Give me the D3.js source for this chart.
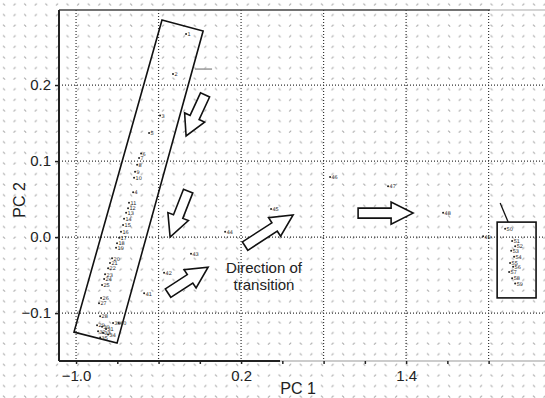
<!DOCTYPE html>
<meta charset="utf-8">
<head>
<script src="https://d3js.org/d3.v7.min.js"></script>
<style>
body { margin: 0; background: #fff; }
text { font-family: "Liberation Sans", Arial, sans-serif; }
</style>
</head>
<body>
<svg id="chart"></svg>
<script>
// sample scores on PC1 / PC2
var sampleId = [1, 2, 3, 5, 6, 7, 8, 9, 10, 4, 11, 12, 13, 14, 15, 16, 17, 18, 19, 20,
  21, 22, 23, 24, 25, 26, 27, 28, 29, 30, 31, 32, 33, 34, 35, 39, 40,
  41, 42, 43, 44, 45, 46, 47, 48, 49, 50,
  51, 52, 53, 54, 55, 56, 57, 58, 59];
var pc1 = [-0.200, -0.295, -0.389, -0.469, -0.527, -0.542, -0.556, -0.571, -0.578, -0.585,
  -0.615, -0.622, -0.636, -0.651, -0.658, -0.673, -0.687, -0.702, -0.709, -0.738,
  -0.753, -0.767, -0.789, -0.796, -0.811, -0.818, -0.833, -0.825, -0.847, -0.811,
  -0.782, -0.840, -0.804, -0.767, -0.825, -0.731, -0.690,
  -0.505, -0.360, -0.164, 0.084, 0.418, 0.847, 1.269, 1.669, 1.960, 2.120,
  2.171, 2.193, 2.164, 2.185, 2.156, 2.178, 2.149, 2.171, 2.193];
var pc2 = [0.267, 0.2145, 0.160, 0.137, 0.110, 0.104, 0.095, 0.086, 0.078, 0.059,
  0.045, 0.038, 0.032, 0.024, 0.016, 0.007, -0.001, -0.008, -0.014, -0.028,
  -0.034, -0.041, -0.049, -0.055, -0.063, -0.080, -0.087, -0.104, -0.116, -0.118,
  -0.121, -0.124, -0.126, -0.128, -0.132, -0.113, -0.113,
  -0.074, -0.047, -0.022, 0.007, 0.037, 0.079, 0.067, 0.032, 0.001, 0.011,
  -0.005, -0.012, -0.018, -0.026, -0.034, -0.039, -0.046, -0.054, -0.061];

// outline of the early-stage group (tilted box) and the late-stage group
var bandBoxX = [-0.375, -0.076, -0.702, -1.015];
var bandBoxY = [0.2855, 0.271, -0.1395, -0.125];
var endBoxX = [2.062, 2.345];
var endBoxY = [0.0197, -0.080];

// direction arrows: tail -> tip
var arrowX0 = [-0.062, -0.185, -0.331, 0.229, 1.051];
var arrowY0 = [0.187, 0.0605, -0.0737, -0.0118, 0.0316];
var arrowX1 = [-0.200, -0.316, -0.040, 0.578, 1.451];
var arrowY1 = [0.133, 0.000, -0.0395, 0.029, 0.0316];

var xTicks = d3.range(-1.0, 2.01, 0.3);
var xLabels = [-1.0, 0.2, 1.4];
var xGrid = [-1.0, -0.4, 0.2, 0.8, 1.4, 2.0];
var yTicks = [0.2, 0.1, 0.0, -0.1];

var W = 545, H = 398;
var svg = d3.select("#chart").attr("width", W).attr("height", H);

var x = d3.scaleLinear().domain([-1.124, 2.41]).range([59, 545]);
var y = d3.scaleLinear().domain([-0.163, 0.2987]).range([361, 10]);

// halftone background of the scan
var defs = svg.append("defs");
var pat = defs.append("pattern").attr("id", "ht")
  .attr("patternUnits", "userSpaceOnUse")
  .attr("width", 21.2).attr("height", 10.6);
pat.append("path").attr("d", "M3,3.5 l2,2").attr("stroke", "#a8a8a8").attr("stroke-width", 1.1);
pat.append("path").attr("d", "M13.6,5.5 l2,-2").attr("stroke", "#a8a8a8").attr("stroke-width", 1.1);
svg.append("rect").attr("width", W).attr("height", H).attr("fill", "url(#ht)");

// grid
svg.append("g").selectAll("line").data(xGrid).join("line")
  .attr("x1", d => x(d)).attr("x2", d => x(d))
  .attr("y1", y.range()[1]).attr("y2", y.range()[0])
  .attr("stroke", "#333").attr("stroke-width", 1.2).attr("stroke-dasharray", "1,2");
svg.append("g").selectAll("line").data(yTicks).join("line")
  .attr("x1", x.range()[0]).attr("x2", x.range()[1])
  .attr("y1", d => y(d)).attr("y2", d => y(d))
  .attr("stroke", "#333").attr("stroke-width", 1.2).attr("stroke-dasharray", "1,2");

// frame
svg.append("line").attr("x1", 59).attr("x2", 490).attr("y1", 10).attr("y2", 10)
  .attr("stroke", "#444").attr("stroke-width", 1.5);
svg.append("line").attr("x1", 490).attr("x2", 545).attr("y1", 10).attr("y2", 10)
  .attr("stroke", "#aaa").attr("stroke-width", 1.2);
svg.append("line").attr("x1", 280).attr("x2", 545).attr("y1", 361).attr("y2", 361)
  .attr("stroke", "#999").attr("stroke-width", 1.2);

// axes
var xAxis = d3.axisBottom(x).tickValues(xTicks).tickSize(3).tickPadding(6)
  .tickFormat(d => xLabels.some(v => Math.abs(v - d) < 1e-6) ? d3.format(".1f")(d) : "");
var gx = svg.append("g").attr("transform", "translate(0,361)").call(xAxis);
gx.select(".domain").attr("d", "M59,0H280").attr("stroke", "#222").attr("stroke-width", 2);
gx.selectAll(".tick line").attr("stroke", "#222").attr("stroke-width", 1.5);
gx.selectAll("text").attr("font-size", 15).attr("fill", "#222")
  .attr("font-family", "Liberation Sans, Arial, sans-serif");

var yAxis = d3.axisLeft(y).tickValues(yTicks).tickSize(4).tickPadding(4)
  .tickFormat(d3.format(".1f"));
var gy = svg.append("g").attr("transform", "translate(59,0)").call(yAxis);
gy.select(".domain").attr("d", "M0,10V361").attr("stroke", "#222").attr("stroke-width", 2);
gy.selectAll(".tick line").attr("stroke", "#222").attr("stroke-width", 1.5);
gy.selectAll("text").attr("font-size", 15).attr("fill", "#222")
  .attr("font-family", "Liberation Sans, Arial, sans-serif");

svg.append("text").attr("x", 298).attr("y", 394).attr("text-anchor", "middle")
  .attr("font-size", 16).attr("fill", "#222").text("PC 1");
svg.append("text").attr("transform", "translate(25,200) rotate(-90)")
  .attr("text-anchor", "middle").attr("font-size", 16).attr("fill", "#222").text("PC 2");

// group boxes
var bandPts = bandBoxX.map((v, i) => [x(v), y(bandBoxY[i])]);
svg.append("path").attr("d", "M" + bandPts.join("L") + "Z")
  .attr("fill", "none").attr("stroke", "#111").attr("stroke-width", 1.6);
svg.append("rect")
  .attr("x", x(endBoxX[0])).attr("y", y(endBoxY[0]))
  .attr("width", x(endBoxX[1]) - x(endBoxX[0])).attr("height", y(endBoxY[1]) - y(endBoxY[0]))
  .attr("fill", "none").attr("stroke", "#111").attr("stroke-width", 1.6);

// leader lines
svg.append("line").attr("x1", x(2.084)).attr("y1", y(0.0447)).attr("x2", x(2.142)).attr("y2", y(0.0197))
  .attr("stroke", "#111").attr("stroke-width", 1.3);
svg.append("line").attr("x1", x(-0.135)).attr("y1", y(0.221)).attr("x2", x(-0.011)).attr("y2", y(0.221))
  .attr("stroke", "#999").attr("stroke-width", 1.5);

// hollow block arrows
function blockArrow(x0, y0, x1, y1) {
  var dx = x1 - x0, dy = y1 - y0, L = Math.hypot(dx, dy);
  var ux = dx / L, uy = dy / L, nx = -uy, ny = ux;
  var sw = 5, hw = 11, hl = Math.min(22, L * 0.45);
  var bx = x1 - ux * hl, by = y1 - uy * hl;
  var p = [
    [x0 + nx * sw, y0 + ny * sw], [bx + nx * sw, by + ny * sw], [bx + nx * hw, by + ny * hw],
    [x1, y1],
    [bx - nx * hw, by - ny * hw], [bx - nx * sw, by - ny * sw], [x0 - nx * sw, y0 - ny * sw]];
  return "M" + p.map(q => q[0].toFixed(1) + "," + q[1].toFixed(1)).join("L") + "Z";
}
svg.append("g").selectAll("path").data(arrowX0).join("path")
  .attr("d", (d, i) => blockArrow(x(arrowX0[i]), y(arrowY0[i]), x(arrowX1[i]), y(arrowY1[i])))
  .attr("fill", "#fff").attr("stroke", "#111").attr("stroke-width", 1.6)
  .attr("stroke-linejoin", "miter");

// caption
svg.append("text").attr("x", 264).attr("y", 273).attr("text-anchor", "middle")
  .attr("font-size", 15).attr("fill", "#222").text("Direction of");
svg.append("text").attr("x", 264).attr("y", 290).attr("text-anchor", "middle")
  .attr("font-size", 15).attr("fill", "#222").text("transition");

// points with sample numbers
var pts = svg.append("g").selectAll("g").data(sampleId).join("g")
  .attr("transform", (d, i) => "translate(" + x(pc1[i]) + "," + y(pc2[i]) + ")");
pts.append("circle").attr("r", 1).attr("fill", "#222");
pts.append("text").attr("x", 1.5).attr("y", 2.2).attr("font-size", 5.5)
  .attr("fill", "#222").style("text-rendering", "geometricPrecision").text(d => d);
</script>
</body>
</html>
